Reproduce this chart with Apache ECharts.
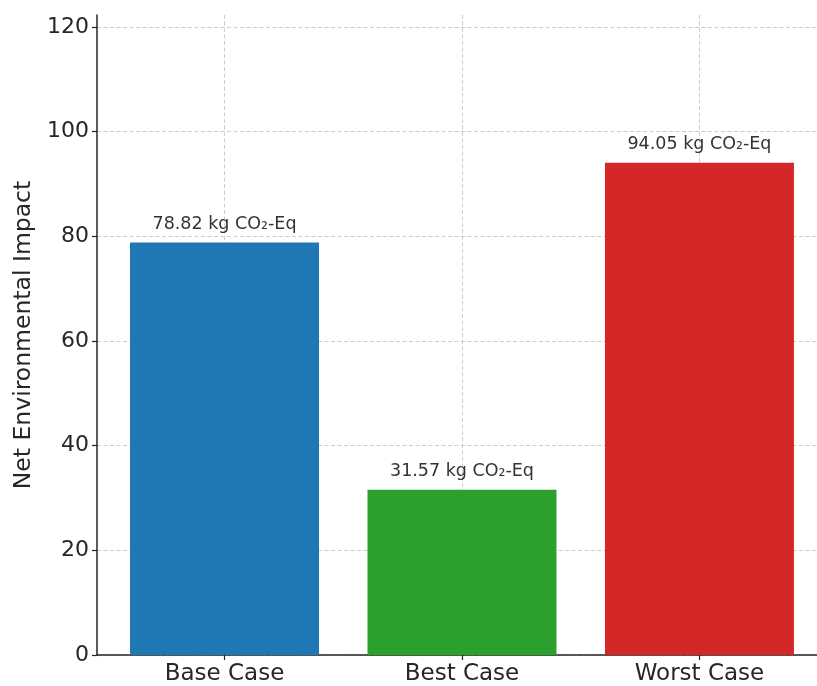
<!DOCTYPE html>
<html>
<head>
<meta charset="utf-8">
<script src="https://cdn.jsdelivr.net/npm/echarts@6/dist/echarts.min.js"></script>
<style>
  html, body { margin: 0; padding: 0; background: #ffffff; }
  #chart { width: 817px; height: 686px; }
</style>
</head>
<body>
<div id="chart"></div>
<script>
// Scenario results (kg CO2-Eq)
const categories = ['Base Case', 'Best Case', 'Worst Case'];
const impactValues = [78.82, 31.57, 94.05];
const barColors = ['#1f77b4', '#2ca02c', '#d62728'];
const yTicks = [0, 20, 40, 60, 80, 100, 120];

const FONT = '"DejaVu Sans", sans-serif';
const INK = '#262626';
const GRID_LINE = { show: true, lineStyle: { color: '#cccccc', width: 1, type: [4, 2.5] } };

// Each bar sits at its category index on a numeric x scale
const barData = impactValues.map((v, i) => ({
  value: [i, v],
  itemStyle: { color: barColors[i] }
}));
const catPositions = categories.map((_, i) => i);

const chart = echarts.init(document.getElementById('chart'), null, { renderer: 'canvas' });
chart.setOption({
  backgroundColor: '#ffffff',
  animation: false,
  grid: { left: 97, right: 0, top: 15, bottom: 29, containLabel: false },
  xAxis: {
    type: 'value',
    min: -0.537,
    max: 2.495,
    axisLine: { show: true, onZero: false, lineStyle: { color: INK, width: 1.5 } },
    axisTick: { show: true, length: 5, lineStyle: { color: INK, width: 1.2 }, customValues: catPositions },
    axisLabel: {
      show: true,
      customValues: catPositions,
      margin: 8,
      color: INK,
      fontFamily: FONT,
      fontSize: 23,
      formatter: v => categories[Math.round(v)] || ''
    },
    splitLine: GRID_LINE
  },
  yAxis: {
    type: 'value',
    min: 0,
    max: 122.265,
    name: 'Net Environmental Impact',
    nameLocation: 'middle',
    nameGap: 61,
    nameTextStyle: { color: INK, fontFamily: FONT, fontSize: 23.5 },
    axisLine: { show: true, onZero: false, lineStyle: { color: INK, width: 1.5 } },
    axisTick: { show: true, length: 5, lineStyle: { color: INK, width: 1.2 }, customValues: yTicks },
    axisLabel: {
      customValues: yTicks,
      margin: 8,
      color: INK,
      fontFamily: FONT,
      fontSize: 22
    },
    splitLine: GRID_LINE
  },
  series: [{
    type: 'bar',
    data: barData,
    barWidth: 189,
    z: 1,
    label: {
      show: true,
      position: 'top',
      distance: 9,
      color: '#333333',
      fontFamily: FONT,
      fontSize: 17.5,
      formatter: p => p.value[1].toFixed(2) + ' kg CO₂-Eq'
    }
  }]
});
</script>
</body>
</html>
